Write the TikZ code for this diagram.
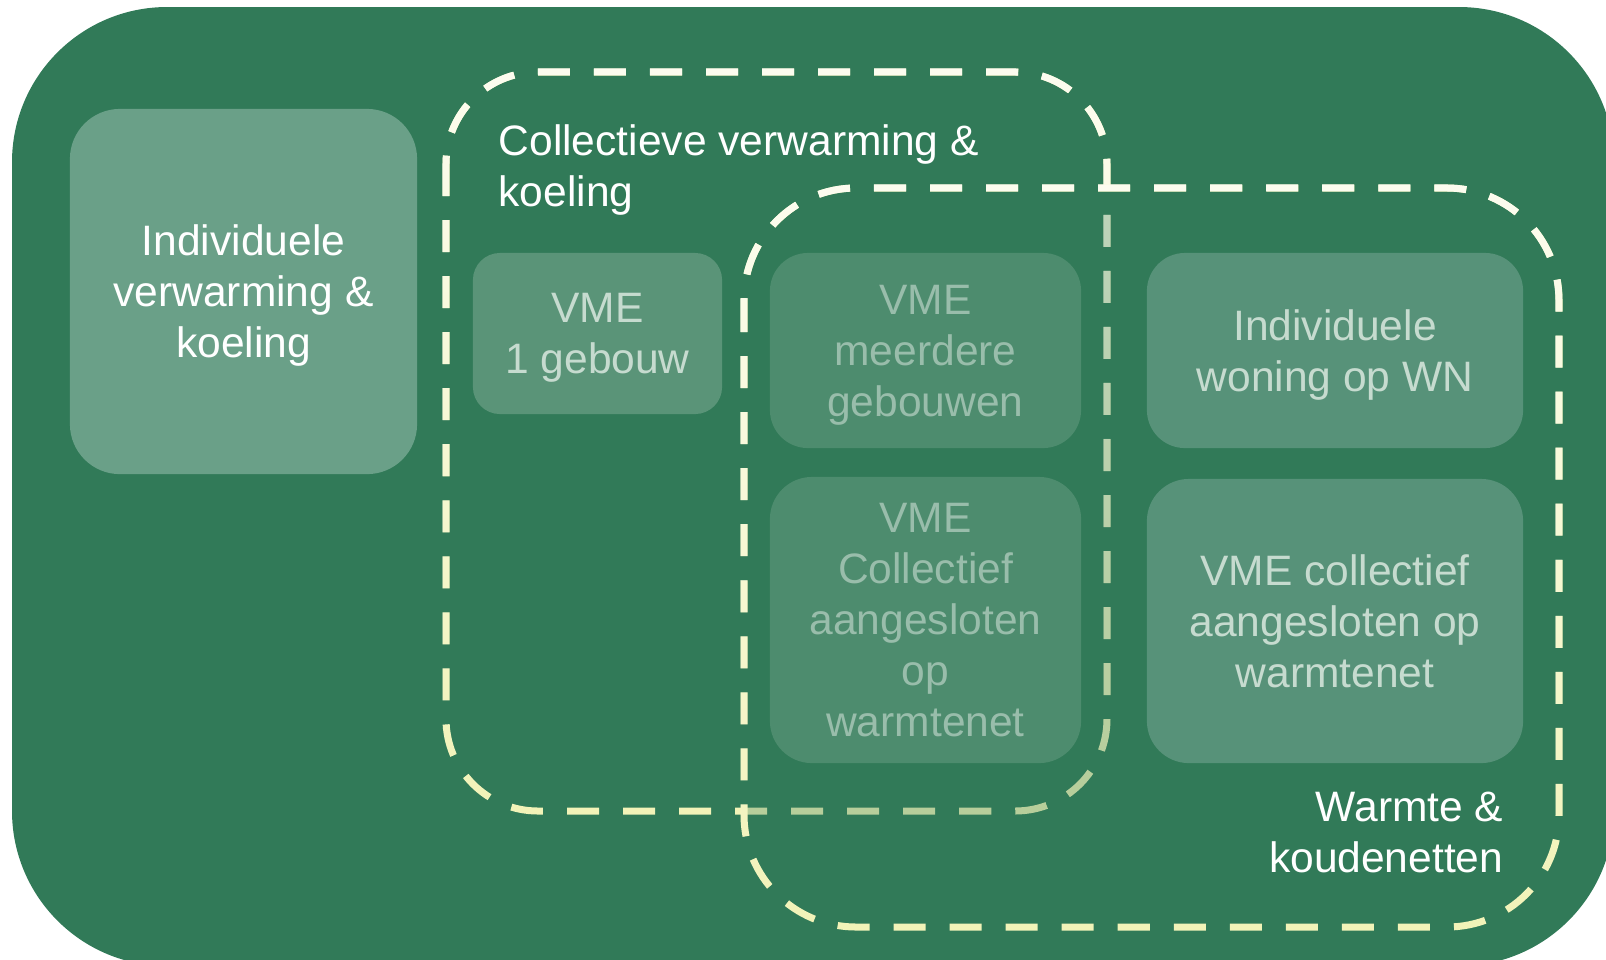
\documentclass[tikz,border=0pt]{standalone}
\usepackage{fontspec}
\setmainfont{Liberation Sans}
\usetikzlibrary{fadings}
\definecolor{bggreen}{HTML}{317A58}
\definecolor{leftbox}{HTML}{6AA088}
\definecolor{midbox}{HTML}{5A9478}
\definecolor{rightbox}{HTML}{579279}
\definecolor{boxtext}{HTML}{C6DBCF}
\definecolor{dashtop}{HTML}{FDFDF0}
\definecolor{dashbot}{HTML}{F2F3B8}
\tikzfading[name=fadedown, top color=transparent!0, bottom color=transparent!100]
\begin{document}
\begin{tikzpicture}[x=0.01cm, y=-0.01cm,
  lbl/.style={font=\fontsize{12.1pt}{14.5pt}\selectfont, inner sep=0pt, text depth=0pt},
  card/.style={lbl, text depth=-1.4pt, align=center, fill=midbox, text=boxtext},
  dashedge/.style={line width=0.07cm, dash pattern=on 0.32cm off 0.24cm}]
\useasboundingbox (0,0) rectangle (1606,959);
\clip (0,0) rectangle (1606,959);
% background
\fill[bggreen, rounded corners=1.55cm] (12,7) rectangle (1614,966);
% left box
\node[card, fill=leftbox, text=white, minimum width=3.47cm, minimum height=3.65cm, rounded corners=0.5cm] (indiv) at (243.5,291.5) {Individuele\\verwarming \&\\koeling};
% collective dashed region
\draw[dashedge, dashbot, rounded corners=0.92cm] (446,72) rectangle (1107,811);
\draw[dashedge, dashtop, rounded corners=0.92cm, path fading=fadedown] (446,72) rectangle (1107,811);
% collective boxes
\node[card, minimum width=2.49cm, minimum height=1.61cm, rounded corners=0.27cm] (vme1) at (597.5,333.5) {VME\\1 gebouw};
\node[card, minimum width=3.11cm, minimum height=1.95cm, rounded corners=0.38cm] (vmemeer) at (925.5,350.5) {VME\\meerdere\\gebouwen};
\node[card, minimum width=3.11cm, minimum height=2.86cm, rounded corners=0.42cm] (vmecoll) at (925.5,620) {VME\\Collectief\\aangesloten\\op\\warmtenet};
% warmte region overlay and border
\fill[bggreen, opacity=0.3, rounded corners=1.12cm] (744,188) rectangle (1559,927);
\draw[dashedge, dashbot, rounded corners=1.12cm] (744,188) rectangle (1559,927);
\draw[dashedge, dashtop, rounded corners=1.12cm, path fading=fadedown] (744,188) rectangle (1559,927);
% right boxes
\node[card, fill=rightbox, minimum width=3.76cm, minimum height=1.95cm, rounded corners=0.38cm] (indwon) at (1335,350.5) {Individuele\\woning op WN};
\node[card, fill=rightbox, minimum width=3.76cm, minimum height=2.84cm, rounded corners=0.42cm] (vmecollr) at (1335,621) {VME collectief\\aangesloten op\\warmtenet};
% region labels
\node[lbl, align=left, text=white, anchor=south west] (colllbl) at (498,207.5) {Collectieve verwarming \&\\koeling};
\node[lbl, align=right, text=white, anchor=south east] (warmlbl) at (1504,873.5) {Warmte \&\\koudenetten};
\end{tikzpicture}
\end{document}
